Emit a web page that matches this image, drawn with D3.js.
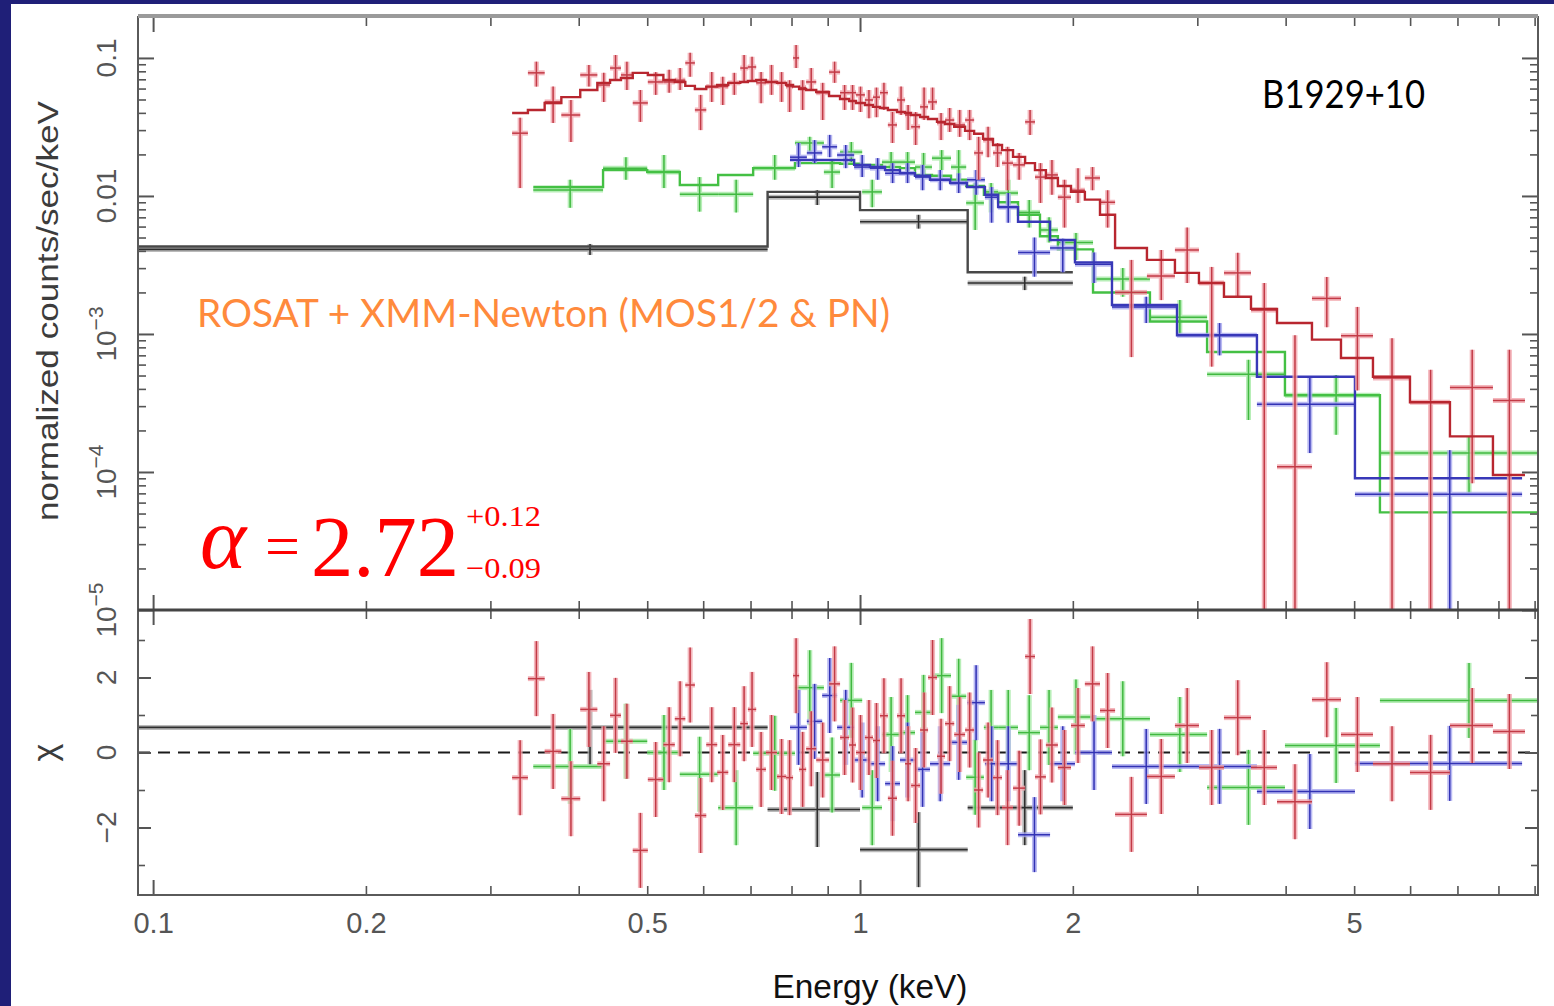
<!DOCTYPE html>
<html>
<head>
<meta charset="utf-8">
<script src="https://cdnjs.cloudflare.com/ajax/libs/d3/7.8.5/d3.min.js"></script>
<style>
  html, body { margin: 0; padding: 0; background: #1f1f78; }
  svg { display: block; }
</style>
</head>
<body>
<svg id="chart" width="1554" height="1006"></svg>
<script>
// ---------------- Spectral data (energy in keV, rate in counts/s/keV) ----------------

// ROSAT PSPC (black)
const rosatEdges = [0.09, 0.74, 1.0, 1.42, 2.0];
const rosatRate  = [0.0041, 0.0098, 0.0065, 0.00234];
const rosatHi    = [0.00449, 0.0110, 0.0073, 0.0026];
const rosatLo    = [0.00374, 0.0086, 0.0058, 0.00208];
const rosatModel = [0.0043, 0.0107, 0.0079, 0.0028];
const rosatChi   = [0.67, -1.52, -2.59, -1.47];

// XMM-Newton EPIC-PN (red)
const pnEdges = [0.322, 0.339, 0.358, 0.378, 0.402, 0.425, 0.443, 0.459, 0.477, 0.501,
  0.527, 0.547, 0.566, 0.584, 0.606, 0.628, 0.651, 0.677, 0.694, 0.713,
  0.736, 0.763, 0.786, 0.804, 0.820, 0.839, 0.867, 0.904, 0.937, 0.965,
  0.987, 1.016, 1.043, 1.067, 1.095, 1.128, 1.158, 1.181, 1.216, 1.248,
  1.285, 1.319, 1.359, 1.408, 1.450, 1.493, 1.542, 1.588, 1.646, 1.712,
  1.768, 1.832, 1.905, 1.988, 2.080, 2.185, 2.295, 2.546, 2.789, 3.016,
  3.272, 3.573, 3.889, 4.358, 4.790, 5.316, 5.997, 6.831, 7.858, 8.722];
const pnRate = [0.0285, 0.078, 0.048, 0.0386, 0.0753, 0.0637, 0.0845, 0.0753, 0.0472, 0.067,
  0.067, 0.069, 0.092, 0.042, 0.062, 0.062, 0.066, 0.0845, 0.086, 0.066,
  0.067, 0.066, 0.062, 0.100, 0.061, 0.067, 0.056, 0.079, 0.056, 0.056,
  0.054, 0.0496, 0.052, 0.056, 0.0327, 0.0496, 0.0386, 0.0317, 0.0442, 0.048,
  0.0338, 0.0355, 0.0327, 0.0355, 0.0205, 0.0254, 0.0205, 0.0173, 0.0168, 0.0344,
  0.0137, 0.0142, 0.0098, 0.0110, 0.0135, 0.0090, 0.0020, 0.00263, 0.00406, 0.00234,
  0.00277, 0.00149, 0.000109, 0.00181, 0.00097, 0.00048, 0.00032, 0.00041, 0.00033];
const pnHi = [0.0369, 0.094, 0.062, 0.0496, 0.089, 0.078, 0.105, 0.094, 0.0586, 0.079,
  0.082, 0.0845, 0.109, 0.054, 0.079, 0.073, 0.078, 0.105, 0.102, 0.079,
  0.089, 0.079, 0.069, 0.124, 0.069, 0.0845, 0.066, 0.094, 0.0637, 0.0637,
  0.062, 0.0586, 0.061, 0.066, 0.0406, 0.062, 0.0456, 0.0406, 0.061, 0.061,
  0.0399, 0.0434, 0.042, 0.042, 0.0268, 0.0317, 0.0242, 0.0227, 0.0205, 0.042,
  0.0173, 0.0182, 0.0131, 0.0159, 0.0162, 0.0110, 0.00344, 0.00406, 0.0059, 0.00306,
  0.00387, 0.00234, 0.00098, 0.00259, 0.00157, 0.00093, 0.00055, 0.00077, 0.00077];
const pnLo = [0.0114, 0.062, 0.0338, 0.0246, 0.062, 0.048, 0.0693, 0.0586, 0.0344, 0.054,
  0.056, 0.0586, 0.073, 0.030, 0.048, 0.0456, 0.054, 0.066, 0.069, 0.047,
  0.054, 0.048, 0.0406, 0.0845, 0.042, 0.0586, 0.0355, 0.066, 0.042, 0.042,
  0.0406, 0.0366, 0.0372, 0.042, 0.0242, 0.0386, 0.0301, 0.0234, 0.0355, 0.042,
  0.0254, 0.0291, 0.0268, 0.0254, 0.0131, 0.0191, 0.0162, 0.0110, 0.0131, 0.0277,
  0.0089, 0.0102, 0.0059, 0.0089, 0.0110, 0.0059, 0.00068, 0.00176, 0.00234, 0.00058,
  0.00186, 0, 0, 0.00112, 0.00039, 0, 0, 0.000083, 0];
const pnModel = [0.0399, 0.042, 0.0472, 0.052, 0.0586, 0.066, 0.0693, 0.0716, 0.078, 0.0753,
  0.0693, 0.067, 0.0627, 0.0596, 0.062, 0.0637, 0.066, 0.067, 0.068, 0.0693,
  0.067, 0.066, 0.0637, 0.062, 0.0596, 0.0586, 0.0567, 0.053, 0.0504, 0.0488,
  0.0472, 0.0456, 0.0442, 0.0434, 0.042, 0.0406, 0.0399, 0.0386, 0.0373, 0.0361,
  0.0344, 0.0332, 0.0317, 0.0296, 0.0282, 0.0259, 0.0234, 0.0215, 0.0192, 0.0173,
  0.0154, 0.0135, 0.0118, 0.0107, 0.0094, 0.0073, 0.0042, 0.00344, 0.00277, 0.00234,
  0.00186, 0.00152, 0.00120, 0.00091, 0.00067, 0.00049, 0.00032, 0.000181, 0.000095];
const pnChi = [-0.67, 1.97, 0.03, -1.23, 1.15, -0.3, 0.99, 0.3, -2.61, -0.72,
  0.21, 0.9, 1.8, -1.68, 0.21, -0.53, 0.21, 0.77, 1.15, -0.45,
  0.0, -0.64, -0.67, 2.05, -0.45, 0.1, -0.2, 1.83, 0.4, 0.2,
  0.0, 0.4, 0.32, 0.98, -1.22, 0.98, -0.3, -0.88, 0.6, 2.0,
  -0.1, 0.77, 0.48, 0.6, -1.0, -0.2, -0.67, -1.47, -0.95, 2.56,
  -0.65, 0.2, -0.4, 0.72, 1.83, 1.12, -1.65, -0.64, 0.72, -0.4,
  0.93, -0.4, -1.31, 1.41, 0.48, -0.3, -0.53, 0.72, 0.56];

// XMM-Newton MOS1 (green)
const mos1Edges = [0.345, 0.433, 0.500, 0.556, 0.630, 0.706, 0.809, 0.889, 0.937, 1.007,
  1.074, 1.139, 1.196, 1.264, 1.345, 1.413, 1.497, 1.568, 1.673, 1.797,
  1.905, 2.136, 2.571, 3.097, 3.991, 5.438, 9.10];
const mos1Rate = [0.01105, 0.0159, 0.0149, 0.0103, 0.0103, 0.0159, 0.0242, 0.0149, 0.0208, 0.0107,
  0.0176, 0.0176, 0.0162, 0.0188, 0.0162, 0.0089, 0.0107, 0.0105, 0.0076, 0.00567,
  0.0046, 0.0025, 0.00132, 0.00051, 0.00036, 0.000137];
const mos1Hi = [0.0131, 0.0191, 0.0198, 0.0137, 0.0131, 0.0198, 0.0268, 0.0182, 0.0246, 0.0131,
  0.0208, 0.0208, 0.0205, 0.0215, 0.0215, 0.0124, 0.0124, 0.0131, 0.00935, 0.0070,
  0.0054, 0.0030, 0.00176, 0.00065, 0.000504, 0.000181];
const mos1Lo = [0.0082, 0.0131, 0.0114, 0.0077, 0.0076, 0.0131, 0.0205, 0.0114, 0.0176, 0.0083,
  0.0146, 0.0146, 0.0137, 0.0154, 0.0131, 0.00567, 0.0076, 0.0083, 0.0059, 0.0046,
  0.00344, 0.00186, 0.00098, 0.000238, 0.000186, 0.000070];
const mos1Model = [0.0116, 0.0154, 0.0149, 0.0120, 0.0142, 0.0159, 0.0173, 0.0173, 0.0171, 0.0168,
  0.0162, 0.0159, 0.0142, 0.0140, 0.0131, 0.0118, 0.0102, 0.0090, 0.0073, 0.0051,
  0.0041, 0.0020, 0.00123, 0.00074, 0.00036, 0.000051];
const mos1Chi = [-0.37, 0.3, 0.0, -0.58, -1.47, -0.02, 1.73, -0.6, 1.39, -1.47,
  0.48, 0.53, 1.07, 2.05, 1.5, -0.66, 0.67, 0.67, 0.53, 0.67,
  0.95, 0.9, 0.48, -0.93, 0.19, 1.39];

// XMM-Newton MOS2 (blue)
const mos2Edges = [0.796, 0.841, 0.884, 0.928, 0.981, 1.033, 1.085, 1.139, 1.196, 1.256,
  1.341, 1.417, 1.502, 1.568, 1.673, 1.857, 2.014, 2.272, 2.808, 3.643, 5.013, 8.64];
const mos2Rate = [0.0191, 0.0205, 0.0227, 0.0198, 0.0162, 0.0159, 0.0146, 0.0146, 0.0137, 0.0131,
  0.0124, 0.0131, 0.0098, 0.0083, 0.0039, 0.0042, 0.0032, 0.00157, 0.00098, 0.00031, 0.000069];
const mos2Hi = [0.0242, 0.0254, 0.0277, 0.0234, 0.0198, 0.0188, 0.0173, 0.0173, 0.0168, 0.0154,
  0.0146, 0.0154, 0.0116, 0.0105, 0.0050, 0.0049, 0.0039, 0.00186, 0.00120, 0.00049, 0.000144];
const mos2Lo = [0.0162, 0.0173, 0.0191, 0.0159, 0.0137, 0.0131, 0.0124, 0.0124, 0.0110, 0.0110,
  0.0105, 0.0102, 0.0064, 0.0064, 0.0026, 0.0028, 0.00234, 0.00120, 0.00070, 0.000137, 0];
const mos2Model = [0.0182, 0.0182, 0.0182, 0.0182, 0.0168, 0.0162, 0.0154, 0.0146, 0.0140, 0.0131,
  0.0124, 0.0116, 0.0102, 0.0083, 0.0065, 0.0048, 0.0033, 0.00162, 0.00098, 0.00049, 0.000090];
const mos2Chi = [0.67, 0.83, 1.52, 0.67, -0.2, -0.3, -0.83, -0.2, -0.45, -0.3,
  0.27, 1.33, -0.3, -0.3, -2.19, -0.3, 0.0, -0.37, -0.37, -1.04, -0.29];

// Axis ticks
const xMajorTicks = [0.1, 1];
const xMinorTicks = [0.2, 0.3, 0.4, 0.5, 0.6, 0.7, 0.8, 0.9, 2, 3, 4, 5, 6, 7, 8, 9];
const xTickLabels = [0.1, 0.2, 0.5, 1, 2, 5];
const yMajorTicks = [1e-5, 1e-4, 1e-3, 0.01, 0.1];
const yMinorTicks = [2e-5, 3e-5, 4e-5, 5e-5, 6e-5, 7e-5, 8e-5, 9e-5,
  2e-4, 3e-4, 4e-4, 5e-4, 6e-4, 7e-4, 8e-4, 9e-4,
  2e-3, 3e-3, 4e-3, 5e-3, 6e-3, 7e-3, 8e-3, 9e-3,
  0.02, 0.03, 0.04, 0.05, 0.06, 0.07, 0.08, 0.09];
const yTickLabels = [
  { v: 0.1, base: "0.1", exp: null },
  { v: 0.01, base: "0.01", exp: null },
  { v: 1e-3, base: "10", exp: "\u22123" },
  { v: 1e-4, base: "10", exp: "\u22124" },
  { v: 1e-5, base: "10", exp: "\u22125" }
];
const chiMajorTicks = [-2, 0, 2];
const chiMinorTicks = [-3, -1, 1, 3];
const chiTickLabels = [{ v: 2, t: "2" }, { v: 0, t: "0" }, { v: -2, t: "\u22122" }];
const CHI_ERR = 1; // delchi residuals carry unit error bars

// ---------------- Layout ----------------
const W = 1554, H = 1006;
const L = 138, R = 1538, T = 17, MID = 610, B = 895;

const svg = d3.select("#chart");
svg.append("rect").attr("x", 0).attr("y", 0).attr("width", W).attr("height", H).attr("fill", "#1f1f78");
svg.append("rect").attr("x", 11).attr("y", 4).attr("width", W - 11).attr("height", H - 4).attr("fill", "#ffffff");

const x = d3.scaleLog().domain([0.0952, 9.1]).range([L, R]);
const yTop = d3.scaleLog().domain([1e-5, 0.198]).range([MID, T]);
const yRes = d3.scaleLinear().domain([-3.8, 3.8]).range([B, MID]);

const defs = svg.append("defs");
defs.append("clipPath").attr("id", "clipTop").append("rect")
  .attr("x", L).attr("y", T).attr("width", R - L).attr("height", MID - T);
defs.append("clipPath").attr("id", "clipRes").append("rect")
  .attr("x", L).attr("y", MID).attr("width", R - L).attr("height", B - MID);

const series = [
  { edges: rosatEdges, rate: rosatRate, hi: rosatHi, lo: rosatLo, model: rosatModel, chi: rosatChi,
    light: "#a9a9a9", dark: "#2e2e2e", modelColor: "#484848", lightW: 5, darkW: 1.6 },
  { edges: mos1Edges, rate: mos1Rate, hi: mos1Hi, lo: mos1Lo, model: mos1Model, chi: mos1Chi,
    light: "#a6eaa6", dark: "#40b840", modelColor: "#44c044", lightW: 5, darkW: 1.5 },
  { edges: mos2Edges, rate: mos2Rate, hi: mos2Hi, lo: mos2Lo, model: mos2Model, chi: mos2Chi,
    light: "#a8a8f0", dark: "#3232b4", modelColor: "#3838b8", lightW: 5, darkW: 1.5 },
  { edges: pnEdges, rate: pnRate, hi: pnHi, lo: pnLo, model: pnModel, chi: pnChi,
    light: "#f2a6ad", dark: "#c23a46", modelColor: "#b8262f", lightW: 5, darkW: 1.5 }
];

function bins(s) {
  return s.rate.map((r, i) => ({
    e0: s.edges[i], e1: s.edges[i + 1], ec: (s.edges[i] + s.edges[i + 1]) / 2,
    rate: r, hi: s.hi[i], lo: Math.max(s.lo[i], yTop.domain()[0]),
    model: s.model[i], chi: s.chi[i]
  }));
}

const gTop = svg.append("g").attr("clip-path", "url(#clipTop)");
const gRes = svg.append("g").attr("clip-path", "url(#clipRes)");

// zero line of the residual panel
gRes.append("line")
  .attr("x1", L).attr("x2", R).attr("y1", yRes(0)).attr("y2", yRes(0))
  .attr("stroke", "#1a1a1a").attr("stroke-width", 2.2).attr("stroke-dasharray", "12,8");

const stepLine = d3.line().curve(d3.curveStepAfter).x(d => x(d[0])).y(d => yTop(d[1]));

series.forEach(s => {
  const b = bins(s);

  // data crosses, upper panel
  [["light", s.lightW, 0.8], ["dark", s.darkW, 1]].forEach(([k, w, op]) => {
    const g = gTop.append("g").attr("stroke", s[k]).attr("stroke-width", w).attr("opacity", op);
    g.selectAll("line.h").data(b).join("line").attr("class", "h")
      .attr("x1", d => x(d.e0)).attr("x2", d => x(d.e1))
      .attr("y1", d => yTop(d.rate)).attr("y2", d => yTop(d.rate));
    g.selectAll("line.v").data(b).join("line").attr("class", "v")
      .attr("x1", d => x(d.ec)).attr("x2", d => x(d.ec))
      .attr("y1", d => yTop(d.hi)).attr("y2", d => yTop(d.lo));
  });

  // folded model histogram
  const pts = b.map(d => [d.e0, d.model]);
  pts.push([b[b.length - 1].e1, b[b.length - 1].model]);
  gTop.append("path").datum(pts).attr("d", stepLine)
    .attr("fill", "none").attr("stroke", s.modelColor).attr("stroke-width", 2.4);

  // residual crosses, lower panel
  [["light", s.lightW, 0.8], ["dark", s.darkW, 1]].forEach(([k, w, op]) => {
    const g = gRes.append("g").attr("stroke", s[k]).attr("stroke-width", w).attr("opacity", op);
    g.selectAll("line.h").data(b).join("line").attr("class", "h")
      .attr("x1", d => x(d.e0)).attr("x2", d => x(d.e1))
      .attr("y1", d => yRes(d.chi)).attr("y2", d => yRes(d.chi));
    g.selectAll("line.v").data(b).join("line").attr("class", "v")
      .attr("x1", d => x(d.ec)).attr("x2", d => x(d.ec))
      .attr("y1", d => yRes(d.chi + CHI_ERR)).attr("y2", d => yRes(d.chi - CHI_ERR));
  });
});

// ---------------- Frame and ticks ----------------
const tickColor = "#555";
function styleAxis(g, w) {
  g.select(".domain").remove();
  g.selectAll(".tick line").attr("stroke", tickColor).attr("stroke-width", w);
  g.selectAll(".tick text").remove();
}
function xAxisAt(y, dir, vals, len, w) {
  const ax = (dir === "up" ? d3.axisBottom(x) : d3.axisTop(x))
    .tickValues(vals).tickSizeInner(-len).tickSizeOuter(0).tickFormat("");
  svg.append("g").attr("transform", `translate(0,${y})`).call(ax).call(g => styleAxis(g, w));
}
[[T, "down"], [MID, "up"], [MID, "down"], [B, "up"]].forEach(([y, dir]) => {
  xAxisAt(y, dir, xMajorTicks, 15, 2);
  xAxisAt(y, dir, xMinorTicks, 9, 1.6);
});
function yAxisAt(scale, xpos, side, vals, len, w) {
  const ax = (side === "left" ? d3.axisLeft(scale) : d3.axisRight(scale))
    .tickValues(vals).tickSizeInner(-len).tickSizeOuter(0).tickFormat("");
  svg.append("g").attr("transform", `translate(${xpos},0)`).call(ax).call(g => styleAxis(g, w));
}
[[L, "left"], [R, "right"]].forEach(([xp, side]) => {
  yAxisAt(yTop, xp, side, yMajorTicks, 16, 2);
  yAxisAt(yTop, xp, side, yMinorTicks, 8, 1.6);
  yAxisAt(yRes, xp, side, chiMajorTicks, 13, 2);
  yAxisAt(yRes, xp, side, chiMinorTicks, 7, 1.6);
});

// frame
svg.append("rect").attr("x", L).attr("y", T).attr("width", R - L).attr("height", B - T)
  .attr("fill", "none").attr("stroke", "#5a5a5a").attr("stroke-width", 2);
svg.append("line").attr("x1", L).attr("x2", R).attr("y1", T - 1).attr("y2", T - 1)
  .attr("stroke", "#9a9a9a").attr("stroke-width", 4);
svg.append("line").attr("x1", L).attr("x2", R).attr("y1", MID).attr("y2", MID)
  .attr("stroke", "#444").attr("stroke-width", 3);

// ---------------- Tick labels ----------------
const labelFont = "'Liberation Sans', Arial, sans-serif";
const xLab = svg.append("g").attr("transform", `translate(0,${B})`)
  .call(d3.axisBottom(x).tickValues(xTickLabels).tickSize(0).tickPadding(17).tickFormat(d => String(d)));
xLab.select(".domain").remove();
xLab.selectAll("text").attr("font-family", labelFont).attr("font-size", 29).attr("fill", "#555");

const yLabG = svg.append("g");
yTickLabels.forEach(t => {
  const tx = yLabG.append("text")
    .attr("transform", `translate(116,${yTop(t.v)}) rotate(-90)`)
    .attr("text-anchor", "middle").attr("font-family", labelFont)
    .attr("font-size", 28).attr("fill", "#555");
  tx.append("tspan").text(t.base);
  if (t.exp) tx.append("tspan").attr("dy", -13).attr("font-size", 21).text(t.exp);
});
chiTickLabels.forEach(t => {
  yLabG.append("text")
    .attr("transform", `translate(116,${yRes(t.v)}) rotate(-90)`)
    .attr("text-anchor", "middle").attr("font-family", labelFont)
    .attr("font-size", 28).attr("fill", "#555").text(t.t);
});

// ---------------- Axis titles ----------------
svg.append("text")
  .attr("transform", `translate(58,311) rotate(-90)`)
  .attr("text-anchor", "middle").attr("font-family", labelFont)
  .attr("font-size", 29).attr("fill", "#3c3c3c")
  .attr("textLength", 420).attr("lengthAdjust", "spacingAndGlyphs")
  .text("normalized counts/sec/keV");
svg.append("text")
  .attr("transform", `translate(56,${yRes(0)}) rotate(-90)`)
  .attr("text-anchor", "middle").attr("font-family", labelFont)
  .attr("font-size", 34).attr("fill", "#3c3c3c").text("\u03c7");
svg.append("text")
  .attr("x", 870).attr("y", 998).attr("text-anchor", "middle")
  .attr("font-family", labelFont).attr("font-size", 34).attr("fill", "#111")
  .attr("textLength", 195).attr("lengthAdjust", "spacingAndGlyphs")
  .text("Energy (keV)");

// ---------------- Annotations ----------------
svg.append("text")
  .attr("x", 1262).attr("y", 108)
  .attr("font-family", "Lato, 'Open Sans', sans-serif").attr("font-size", 38).attr("fill", "#000")
  .attr("textLength", 163).attr("lengthAdjust", "spacingAndGlyphs")
  .text("B1929+10");

svg.append("text")
  .attr("x", 197).attr("y", 327)
  .attr("font-family", "Lato, 'Open Sans', sans-serif").attr("font-size", 38).attr("fill", "#ff8a3c")
  .attr("textLength", 693).attr("lengthAdjust", "spacingAndGlyphs")
  .text("ROSAT + XMM-Newton (MOS1/2 & PN)");

const serif = "'Liberation Serif', 'Times New Roman', serif";
svg.append("text").attr("x", 200).attr("y", 568)
  .attr("font-family", serif).attr("font-style", "italic").attr("font-size", 88).attr("fill", "#ff0000")
  .text("\u03b1");
svg.append("text").attr("x", 265).attr("y", 567)
  .attr("font-family", serif).attr("font-size", 62).attr("fill", "#ff0000")
  .text("=");
svg.append("text").attr("x", 311).attr("y", 576)
  .attr("font-family", serif).attr("font-size", 87).attr("fill", "#ff0000")
  .attr("textLength", 148).attr("lengthAdjust", "spacingAndGlyphs").text("2.72");
svg.append("text").attr("x", 466).attr("y", 526)
  .attr("font-family", serif).attr("font-size", 30).attr("fill", "#ff0000")
  .attr("textLength", 75).attr("lengthAdjust", "spacingAndGlyphs").text("+0.12");
svg.append("text").attr("x", 466).attr("y", 578)
  .attr("font-family", serif).attr("font-size", 30).attr("fill", "#ff0000")
  .attr("textLength", 75).attr("lengthAdjust", "spacingAndGlyphs").text("\u22120.09");
</script>
</body>
</html>
